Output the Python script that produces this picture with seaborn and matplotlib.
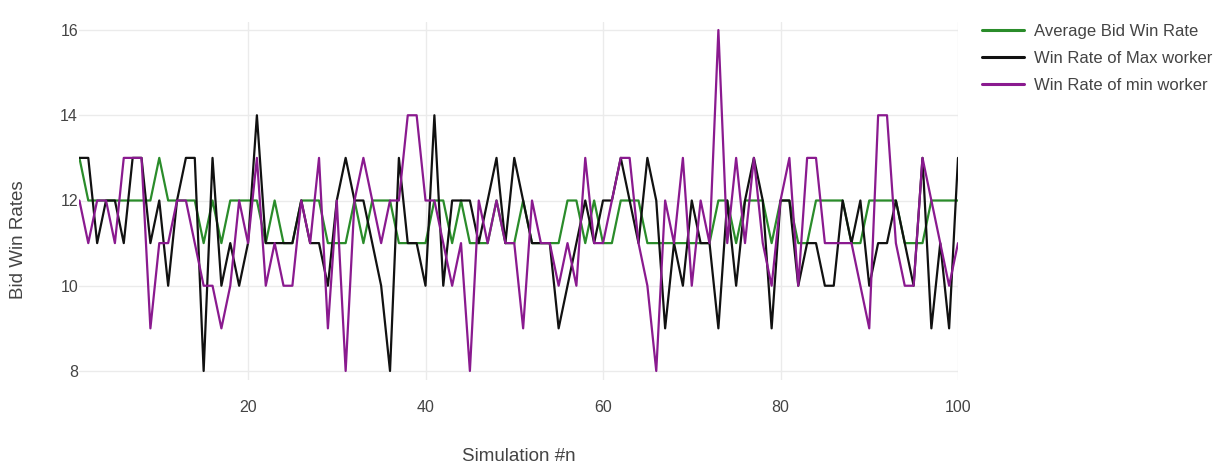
import numpy as np
import pandas as pd
import matplotlib
matplotlib.use("Agg")
import matplotlib.pyplot as plt
import seaborn as sns

simulation = list(range(1, 101))

avg_bid_win_rate = [13, 12, 12, 12, 12, 12, 12, 12, 12, 13,
                    12, 12, 12, 12, 11, 12, 11, 12, 12, 12,
                    12, 11, 12, 11, 11, 12, 12, 12, 11, 11,
                    11, 12, 11, 12, 12, 12, 11, 11, 11, 11,
                    12, 12, 11, 12, 11, 11, 11, 12, 11, 11,
                    12, 11, 11, 11, 11, 12, 12, 11, 12, 11,
                    11, 12, 12, 12, 11, 11, 11, 11, 11, 11,
                    11, 11, 12, 12, 11, 12, 12, 12, 11, 12,
                    12, 11, 11, 12, 12, 12, 12, 11, 11, 12,
                    12, 12, 12, 11, 11, 11, 12, 12, 12, 12]

max_worker_rate = [13, 13, 11, 12, 12, 11, 13, 13, 11, 12,
                   10, 12, 13, 13, 8, 13, 10, 11, 10, 11,
                   14, 11, 11, 11, 11, 12, 11, 11, 10, 12,
                   13, 12, 12, 11, 10, 8, 13, 11, 11, 10,
                   14, 10, 12, 12, 12, 11, 12, 13, 11, 13,
                   12, 11, 11, 11, 9, 10, 11, 12, 11, 12,
                   12, 13, 12, 11, 13, 12, 9, 11, 10, 12,
                   11, 11, 9, 12, 10, 12, 13, 12, 9, 12,
                   12, 10, 11, 11, 10, 10, 12, 11, 12, 10,
                   11, 11, 12, 11, 10, 13, 9, 11, 9, 13]

min_worker_rate = [12, 11, 12, 12, 11, 13, 13, 13, 9, 11,
                   11, 12, 12, 11, 10, 10, 9, 10, 12, 11,
                   13, 10, 11, 10, 10, 12, 11, 13, 9, 12,
                   8, 12, 13, 12, 11, 12, 12, 14, 14, 12,
                   12, 11, 10, 11, 8, 12, 11, 12, 11, 11,
                   9, 12, 11, 11, 10, 11, 10, 13, 11, 11,
                   12, 13, 13, 11, 10, 8, 12, 11, 13, 10,
                   12, 11, 16, 11, 13, 11, 13, 11, 10, 12,
                   13, 10, 13, 13, 11, 11, 11, 11, 10, 9,
                   14, 14, 11, 10, 10, 13, 12, 11, 10, 11]

series_names = ["Average Bid Win Rate", "Win Rate of Max worker", "Win Rate of min worker"]
series_colors = ["#2a8c2a", "#111111", "#8a1a8f"]

x_ticks = [20, 40, 60, 80, 100]
y_ticks = [8, 10, 12, 14, 16]

df = pd.DataFrame({
    "Simulation #n": simulation * 3,
    "Bid Win Rates": avg_bid_win_rate + max_worker_rate + min_worker_rate,
    "series": [series_names[0]] * 100 + [series_names[1]] * 100 + [series_names[2]] * 100,
})

sns.set_theme(style="white")
plt.rcParams["font.family"] = ["Liberation Sans", "DejaVu Sans"]

W, H = 1225, 468
fig = plt.figure(figsize=(W / 100, H / 100), dpi=100)
left, right, top, bottom = 79.4, 958.0, 21.5, 379.5
ax = fig.add_axes([left / W, 1 - bottom / H, (right - left) / W, (bottom - top) / H])

sns.lineplot(data=df, x="Simulation #n", y="Bid Win Rates", hue="series",
             hue_order=series_names, palette=series_colors, estimator=None,
             linewidth=1.6, ax=ax)

ax.set_xlim(1, 100)
ax.set_ylim(7.8, 16.2)
ax.set_xticks(x_ticks)
ax.set_yticks(y_ticks)
ax.grid(True, color="#ebebeb", linewidth=1)
ax.set_axisbelow(True)
for s in ax.spines.values():
    s.set_visible(False)
ax.tick_params(axis="both", length=0, labelsize=11.5, colors="#444444")
ax.tick_params(axis="x", pad=15)
ax.tick_params(axis="y", pad=1)

ax.set_xlabel("Simulation #n", fontsize=13.5, color="#444444")
ax.set_ylabel("Bid Win Rates", fontsize=13.5, color="#444444")
ax.xaxis.set_label_coords(0.5, (bottom - 448) / (bottom - top))
ax.yaxis.set_label_coords((27 - left) / (right - left), (bottom - 240) / (bottom - top))

leg = ax.legend(loc="upper left", bbox_to_anchor=(982 / W, 1 - 24 / H),
                bbox_transform=fig.transFigure, frameon=False, fontsize=12,
                handlelength=2.5, handletextpad=0.6, labelspacing=0.72,
                borderpad=0, borderaxespad=0)
for t in leg.get_texts():
    t.set_color("#444444")
for l in leg.get_lines():
    l.set_linewidth(2.2)

fig.savefig("out.png", dpi=100)
